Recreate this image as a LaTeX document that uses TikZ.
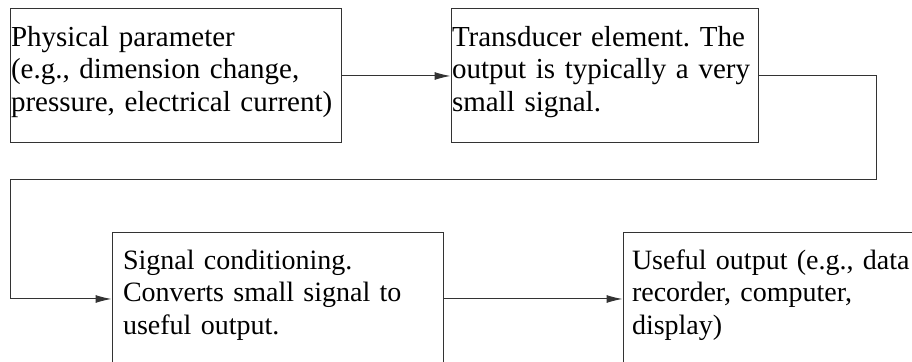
\documentclass[tikz,border=0pt]{standalone}
\usepackage{fontspec}
\setmainfont{Liberation Serif}
\usetikzlibrary{arrows.meta}

\begin{document}
\begin{tikzpicture}[x=0.5pt,y=-0.5pt,>={Latex[length=8pt,width=4pt]},
  blk/.style={draw=black!80,line width=0.5pt,align=left,inner ysep=0pt,minimum height=67pt,font=\fontsize{14.5}{16.3}\selectfont\frenchspacing,execute at end node={\endgraf\vspace*{4pt}}},
  low/.style={blk,minimum height=66pt,font=\fontsize{14}{16.3}\selectfont\frenchspacing},
  conn/.style={draw=black!80,line width=0.5pt}]
  \useasboundingbox (0,0) rectangle (912,362);
  \clip (0,0) rectangle (912,362);
  % blocks (lower ones run past the frame)
  \node[blk,inner xsep=0.5pt,text width=164.5pt] (phys) at (175.5,76) {Physical parameter\\(e.g., dimension change,\\pressure, electrical current)};
  \node[blk,inner xsep=0.5pt,text width=152.5pt] (trans) at (604.5,76) {Transducer element. The\\output is typically a very\\small signal.};
  \node[low,inner xsep=5.5pt,text width=154.5pt] (cond) at (277.5,299) {Signal conditioning.\\Converts small signal to\\useful output.};
  \node[low,inner xsep=4.5pt,text width=156.5pt] (out) at (788.5,299) {Useful output (e.g., data\\recorder, computer,\\display)};
  \coordinate (r) at (876,180);
  \coordinate (l) at (10,180);
  \draw[conn,->] (phys.east) -- (trans.west);
  \draw[conn,->] (trans.east) -| (r) -- (l) |- (cond.west);
  \draw[conn,->] (cond.east) -- (out.west);
\end{tikzpicture}
\end{document}
